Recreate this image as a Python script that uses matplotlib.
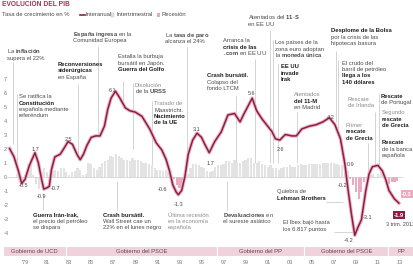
import matplotlib
matplotlib.use("Agg")
import matplotlib.pyplot as plt
from matplotlib.lines import Line2D
from matplotlib.patches import Rectangle

plt.rcParams['font.family'] = ['Liberation Sans', 'DejaVu Sans']
plt.rcParams['mathtext.fontset'] = 'custom'
plt.rcParams['mathtext.rm'] = 'Liberation Sans'
plt.rcParams['mathtext.it'] = 'Liberation Sans:italic'
plt.rcParams['mathtext.bf'] = 'Liberation Sans:bold'

GRANATE = '#8c1d45'
HALO = '#ebb7c7'
ROSA = '#eaaabf'
GRIS_BARRA = '#e3e3e3'
BANDA = '#efd2dc'
TXT = '#4a4a4a'
TXT_NEG = '#1f1f1f'
TXT_CLARO = '#8c8c8c'
LINEA_NOTA = '#c4c4c4'

# tasa interanual (%)
fechas = [1977.6, 1978.0, 1978.4, 1978.7, 1979.0, 1979.4, 1979.9, 1980.2, 1980.5, 1980.7,
          1981.0, 1981.2, 1981.4, 1981.7, 1982.2, 1982.6, 1982.9, 1983.3, 1983.7, 1984.0,
          1984.3, 1984.6, 1985.0, 1985.4, 1985.8, 1986.2, 1986.5, 1986.8, 1987.2, 1987.6,
          1988.1, 1988.5, 1989.0, 1989.6, 1990.3, 1990.9, 1991.4, 1991.8, 1992.1, 1992.4,
          1992.7, 1992.9, 1993.2, 1993.5, 1993.8, 1994.2, 1994.6, 1995.0, 1995.3, 1995.7,
          1996.2, 1996.8, 1997.4, 1998.0, 1998.5, 1998.8, 1999.2, 1999.6, 2000.0, 2000.5,
          2001.1, 2001.4, 2001.7, 2002.1, 2002.6, 2003.2, 2003.6, 2004.1, 2004.8, 2005.4,
          2006.0, 2006.6, 2007.1, 2007.6, 2008.0, 2008.3, 2008.6, 2008.9, 2009.2, 2009.5,
          2009.9, 2010.2, 2010.5, 2011.0, 2011.4, 2011.7, 2012.0, 2012.5, 2012.9]
interanual = [2.0, 1.4, 0.4, -0.5, -0.2, 0.8, 1.7, 1.0, -0.2, -0.9,
              -0.8, -0.7, 0.5, 1.4, 1.6, 2.1, 2.5, 2.3, 1.6, 1.2,
              1.6, 2.2, 2.8, 2.9, 2.9, 3.6, 4.8, 5.6, 6.1, 5.6,
              4.9, 4.7, 4.6, 4.3, 3.4, 2.4, 1.9, 1.2, 0.4, -0.6,
              -1.1, -1.3, -1.0, 0.0, 1.6, 2.6, 3.1, 2.8, 2.3, 1.7,
              2.5, 3.2, 4.4, 4.5, 3.9, 4.4, 5.0, 5.6, 4.7, 4.1,
              3.5, 3.2, 2.7, 2.6, 3.0, 2.9, 2.9, 3.4, 3.6, 3.7,
              3.9, 4.2, 3.7, 2.7, 0.9, -1.0, -2.7, -4.2, -3.6, -3.1,
              -1.0, 0.2, 0.7, 0.8, 0.4, -0.2, -1.0, -1.6, -1.9]

# tasa intertrimestral (%), un valor por trimestre desde 1978
primer_trimestre = 1978.0
intertrimestral = [
    0.2, -0.4, -0.3, 0.1,   # 1978
    0.9, 0.8, 0.1, -0.5,    # 1979
    -0.9, 0.3, 0.6, 0.3,    # 1980
    0.2, 0.4, 0.5, 0.4,     # 1981
    0.6, 0.6, 0.3, 0.1,     # 1982
    0.3, 0.4, 0.6, 0.5,     # 1983
    0.1, 0.2, 1.0, 0.9,     # 1984
    0.6, 0.5, 0.7, 1.0,     # 1985
    1.1, 1.2, 1.5, 1.4,     # 1986
    1.6, 1.5, 1.3, 1.2,     # 1987
    1.2, 1.1, 1.3, 1.2,     # 1988
    1.2, 1.1, 1.0, 1.0,     # 1989
    0.9, 0.8, 0.6, 0.5,     # 1990
    0.5, 0.4, 0.5, 0.3,     # 1991
    0.2, -0.2, -0.6, -0.8,  # 1992
    -0.6, -0.2, 0.2, 0.6,   # 1993
    0.9, 0.9, 0.8, 0.7,     # 1994
    0.6, 0.4, 0.3, 0.4,     # 1995
    0.7, 0.8, 0.8, 0.9,     # 1996
    1.1, 1.1, 1.0, 1.2,     # 1997
    1.0, 1.0, 1.1, 1.2,     # 1998
    1.3, 1.3, 1.0, 1.0,     # 1999
    1.1, 0.9, 0.8, 0.7,     # 2000
    0.8, 0.6, 0.6, 0.5,     # 2001
    0.6, 0.7, 0.7, 0.8,     # 2002
    0.7, 0.7, 0.8, 0.9,     # 2003
    0.8, 0.8, 0.9, 0.9,     # 2004
    0.9, 0.9, 0.9, 1.0,     # 2005
    1.0, 1.0, 1.0, 1.0,     # 2006
    0.9, 0.8, 0.8, 0.7,     # 2007
    0.4, -0.2, -0.6, -1.1,  # 2008
    -1.6, -1.1, -0.4, -0.2, # 2009
    0.1, 0.2, 0.0, 0.2,     # 2010
    0.3, 0.2, 0.0, -0.5,    # 2011
    -0.4, -0.4, -0.3,       # 2012
]
recesiones = [(1992.5, 1993.5), (2008.4, 2010.0), (2011.9, 2013.0)]

gobiernos = ['Gobierno de UCD', 'Gobierno del PSOE', 'Gobierno del PP', 'Gobierno del PSOE', 'PP']
gob_inicio = [1977.0, 1982.75, 1996.45, 2004.3, 2011.95]
gob_fin = [1982.75, 1996.45, 2004.3, 2011.95, 2014.3]

anios = list(range(1979, 2014, 2))
etiquetas_anios = ["'" + str(a)[2:] if a == 1979 else str(a)[2:] for a in anios]
ticks_y = list(range(-4, 8))

# etiquetas de valores: (x, y, texto)
valores = [(1978.82, -0.61, '-0.5'), (1979.91, 1.95, '1.7'), (1980.45, -1.46, '-0.9'),
           (1981.75, -0.82, '-0.7'), (1982.9, 2.65, '2.5'), (1986.95, 6.15, '6.1'),
           (1991.42, -0.96, '-0.6'), (1992.9, -2.0, '-1.3'), (1994.6, 3.35, '3.1'),
           (1995.77, 0.96, '1.7'), (1999.58, 5.95, '5.6'), (2002.2, 1.96, '2.6'),
           (2006.74, 4.22, '4.2'), (2008.5, 0.89, '0.9'), (2007.83, -0.61, '-0.2'),
           (2008.37, -4.6, '-4.2'), (2010.1, -2.96, '-3.1')]

# notas: (x, y superior, lineas, linea guia (x, y0, y1) o None)
# estilo de linea: 'n' normal, 'b' negrita, 'c' claro
notas = [
    (1977.37, 9.11, [('La $\\mathbf{inflación}$', 'n'), ('supera el 22%', 'n')], (1977.9, 8.2, 2.3)),
    (1978.46, 5.9, [('Se ratifica la', 'n'), ('Constitución', 'b'), ('española mediante', 'n'),
                    ('referéndum', 'n')], (1978.3, 5.9, 0.5)),
    (1981.99, 8.2, [('Reconversiones', 'b'), ('siderúrgicas', 'b'), ('en España', 'n')],
     (1983.81, 6.6, 1.5)),
    (1983.35, 10.35, [('$\\mathbf{España\\ ingresa}$ en la', 'n'), ('Comunidad Europea', 'n')],
     (1985.62, 9.3, 3.0)),
    (1987.43, 8.75, [('Estalla la burbuja', 'n'), ('bursátil en Japón.', 'n'),
                     ('Guerra del Golfo', 'b')], (1987.9, 6.8, 4.9)),
    (1991.69, 10.3, [('La $\\mathbf{tasa\\ de\\ paro}$', 'n'), ('alcanza el 24%', 'n')],
     (1993.69, 9.25, 1.2)),
    (1988.97, 6.7, [('Disolución', 'c'), ('de la $\\mathbf{URSS}$', 'n')], (1988.8, 6.7, 2.0)),
    (1990.7, 5.4, [('Tratado de', 'c'), ('Maastricht.', 'n'), ('Nacimiento', 'b'),
                   ('de la UE', 'b')], (1990.5, 5.4, 0.4)),
    (1995.5, 7.4, [('Crash bursátil.', 'b'), ('Colapso del', 'n'), ('fondo LTCM', 'n')],
     (1998.13, 5.8, 1.0)),
    (1999.22, 11.55, [('Atentados del $\\mathbf{11}$-$\\mathbf{S}$', 'n'), ('en EE UU', 'n')],
     (2001.21, 10.5, 1.0)),
    (1996.95, 9.9, [('Arranca la', 'n'), ('crisis de las', 'b'), ('$\\mathbf{.com}$ en EE UU', 'n')],
     (1999.85, 8.4, 1.0)),
    (2001.67, 9.75, [('Los países de la', 'n'), ('zona euro adoptan', 'n'),
                     ('la $\\mathbf{moneda\\ única}$', 'n')], (2001.48, 9.75, 1.0)),
    (2002.21, 8.05, [('EE UU', 'b'), ('invade', 'b'), ('Irak', 'b')], (2001.94, 8.05, 1.0)),
    (2003.39, 6.05, [('Atentados', 'c'), ('del 11-M', 'b'), ('en Madrid', 'n')],
     (2003.66, 4.6, 1.0)),
    (2006.74, 10.6, [('Desplome de la Bolsa', 'b'), ('por la crisis de las', 'n'),
                     ('hipotecas basura', 'n')], (2007.19, 9.0, 3.9)),
    (2007.74, 8.3, [('El crudo del', 'n'), ('barril de petróleo', 'n'), ('llega a los', 'b'),
                    ('140 dólares', 'b')], (2007.38, 8.3, 2.8)),
    (2008.28, 5.7, [('Rescate', 'c'), ('de Irlanda', 'c')], (2010.73, 4.6, 0.9)),
    (2008.1, 3.85, [('Primer', 'c'), ('rescate', 'b'), ('de Grecia', 'b')], (2010.1, 2.4, 0.3)),
    (2011.28, 5.95, [('Rescate', 'b'), ('de Portugal', 'n')], (2011.09, 6.0, 0.5)),
    (2011.37, 4.75, [('Segundo', 'c'), ('rescate', 'b'), ('de Grecia', 'b')], None),
    (2011.37, 2.6, [('Rescate', 'b'), ('de la banca', 'n'), ('española', 'n')], None),
    (1979.73, -2.55, [('Guerra Irán-Irak,', 'b'), ('el precio del petróleo', 'n'),
                      ('se dispara', 'n')], (1980.63, -1.2, -2.4)),
    (1986.07, -2.55, [('Crash bursátil.', 'b'), ('Wall Street cae un', 'n'),
                      ('22% en el lunes negro', 'n')], (1987.34, -0.3, -2.4)),
    (1991.96, -2.55, [('Última recesión', 'c'), ('en la economía', 'c'), ('española', 'c')], None),
    (1996.95, -2.55, [('$\\mathbf{Devaluaciones}$ en', 'n'), ('el sureste asiático', 'n')],
     (1997.31, -0.3, -2.4)),
    (2001.85, -0.9, [('Quiebra de', 'n'), ('Lehman Brothers', 'b')], None),
    (2002.39, -3.1, [('El Ibex bajó hasta', 'n'), ('los 6.817 puntos', 'n')], None),
]
# conectores horizontales: (y, x0, x1)
conectores = [(-1.82, 2006.3, 2007.85), (-3.96, 2007.0, 2008.8)]

fig = plt.figure(figsize=(4.14, 2.68), dpi=100)
ax = fig.add_axes([0, 10 / 268, 1, 258 / 268])
ax.set_xlim(1976.73, 2014.27)
ax.set_ylim(-5.82, 12.61)
for s in ax.spines.values():
    s.set_visible(False)

# bandas de gobierno
ax.barh([-5.32] * len(gobiernos), [f - i for i, f in zip(gob_inicio, gob_fin)], left=gob_inicio,
        height=0.72, color=BANDA, edgecolor='white', linewidth=0.8, zorder=1)
for nombre, i, f in zip(gobiernos, gob_inicio, gob_fin):
    ax.text((i + f) / 2, -5.32, nombre, ha='center', va='center', fontsize=4.2, color='#5b4a50')

# barras intertrimestrales
x_trim = [primer_trimestre + 0.25 * (k + 1) for k in range(len(intertrimestral))]
colores = []
for x, v in zip(x_trim, intertrimestral):
    en_recesion = any(a <= x <= b for a, b in recesiones) and v < 0
    colores.append(ROSA if en_recesion else GRIS_BARRA)
ax.bar(x_trim, intertrimestral, width=0.2, color=colores, zorder=2)
ax.hlines(0, 1977.4, 2013.3, color='#c9c9c9', linewidth=0.5, zorder=2)

# lineas guia de las notas
for tx, ty, lineas, guia in notas:
    if guia:
        ax.vlines(guia[0], guia[2], guia[1], color=LINEA_NOTA, linewidth=0.5, zorder=1)
for y, x0, x1 in conectores:
    ax.hlines(y, x0, x1, color=LINEA_NOTA, linewidth=0.5, zorder=1)

# curva interanual
ax.plot(fechas, interanual, color=HALO, linewidth=2.6, solid_joinstyle='round', zorder=4)
ax.plot(fechas, interanual, color=GRANATE, linewidth=1.1, solid_joinstyle='round', zorder=5)

# texto de las notas, linea a linea sobre la linea base
for tx, ty, lineas, guia in notas:
    for k, (txt, est) in enumerate(lineas):
        color = {'n': TXT, 'b': TXT_NEG, 'c': TXT_CLARO}[est]
        ax.annotate(txt, (tx, ty), xytext=(0, -3.1 - 4.6 * k), textcoords='offset points',
                    fontsize=4.2, fontweight='bold' if est == 'b' else 'normal',
                    color=color, ha='left', va='baseline', zorder=6)

for x, y, t in valores:
    ax.text(x, y, t, ha='center', va='center', fontsize=4, color=TXT, zorder=6)

ax.text(2013.63, -1.25, '-0.3', ha='center', va='center', fontsize=4, color='white',
        fontweight='bold', bbox=dict(boxstyle='square,pad=0.2', fc=ROSA, ec='none'), zorder=6)
ax.text(fechas[-1], -2.75, '-1.9', ha='center', va='center', fontsize=4.2, color='white',
        fontweight='bold', bbox=dict(boxstyle='square,pad=0.2', fc=GRANATE, ec='none'), zorder=6)
ax.text(2013.05, -3.45, '3 trim. 2012', ha='center', va='center', fontsize=4, color=TXT, zorder=6)

ax.set_xticks(anios)
ax.set_xticklabels(etiquetas_anios)
ax.tick_params(axis='x', length=0, pad=1.2, labelsize=4, labelcolor='#777777')
ax.set_yticks(ticks_y)
ax.set_yticklabels([str(t) for t in ticks_y])
ax.tick_params(axis='y', length=0, pad=-2.5, labelsize=4, labelcolor='#777777')
for lab in ax.get_yticklabels():
    lab.set_ha('left')

# titulo y leyenda
fig.text(2 / 414, 1 - 5 / 268, 'EVOLUCIÓN DEL PIB', fontsize=4.8, fontweight='bold',
         color='#a8304f', va='center', ha='left')
yl = 1 - 15 / 268
fig.text(2 / 414, yl, 'Tasa de crecimiento en %', fontsize=4.2, color=TXT, va='center')
fig.lines.append(Line2D([80 / 414, 85 / 414], [yl, yl], transform=fig.transFigure,
                        color=GRANATE, linewidth=1.2))
fig.text(86 / 414, yl, 'Interanual', fontsize=4.2, color=TXT, va='center')
fig.patches.append(Rectangle((111 / 414, yl - 1.6 / 268), 3.2 / 414, 3.2 / 268,
                             transform=fig.transFigure, fc=GRIS_BARRA, ec='#bbbbbb', lw=0.3))
fig.text(117 / 414, yl, 'Intertrimestral', fontsize=4.2, color=TXT, va='center')
fig.patches.append(Rectangle((157 / 414, yl - 1.6 / 268), 3.2 / 414, 3.2 / 268,
                             transform=fig.transFigure, fc=ROSA, ec='none'))
fig.text(162 / 414, yl, 'Recesión', fontsize=4.2, color=TXT, va='center')

fig.savefig('out.png', dpi=100)
